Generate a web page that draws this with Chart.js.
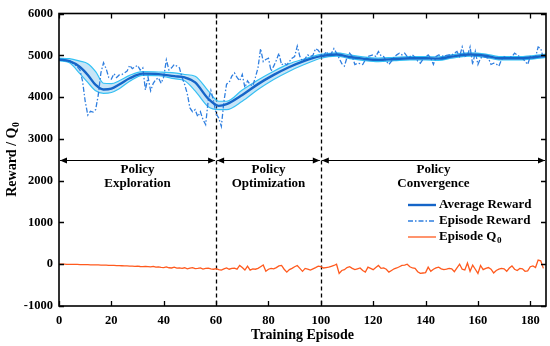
<!DOCTYPE html>
<html>
<head>
<meta charset="utf-8">
<script src="https://cdn.jsdelivr.net/npm/chart.js@4.4.1/dist/chart.umd.min.js"></script>
<style>
  html, body { margin: 0; padding: 0; background: #fff; }
  #wrap { width: 550px; height: 346px; }
</style>
</head>
<body>
<div id="wrap"><canvas id="chart" width="550" height="346"></canvas></div>
<script>
// episode reward, one value per episode (0..185)
const episodeReward = [
  4900, 4890, 4880, 4860, 4870, 4830, 4780, 4720, 4650, 4380,
  3900, 3570, 3660, 3640, 3700, 4050, 4580, 4820, 4680, 4470,
  4430, 4560, 4470, 4530, 4540, 4580, 4620, 4760, 4680, 4720,
  4760, 4650, 4700, 4170, 4480, 4150, 4330, 4420, 4460, 4330,
  4480, 4890, 4650, 4700, 4780, 4740, 4700, 4470, 4300, 4080,
  3740, 3650, 3700, 3530, 3650, 3460, 3340, 3920, 4160, 3920,
  3600, 3500, 3300, 3900, 4310, 4350, 4500, 4580, 4470, 4390,
  4540, 4230, 4390, 4300, 4270, 4470, 4700, 5160, 4850, 4900,
  4930, 4620, 4740, 4880, 5050, 4770, 4810, 4770, 4850, 4930,
  4970, 5220, 4970, 4860, 4920, 5010, 4970, 5000, 5160, 5120,
  5030, 4970, 5090, 5010, 5040, 5160, 5050, 4930, 4800, 4740,
  4950, 5050, 4970, 4780, 4810, 4800, 4780, 4890, 4970, 4990,
  5010, 4970, 5090, 4990, 4970, 4860, 4780, 4860, 4950, 5010,
  5050, 5010, 5050, 4970, 4970, 5010, 4950, 4860, 4810, 4900,
  4960, 5010, 4930, 4780, 4970, 5010, 4990, 4970, 5000, 5010,
  5010, 5050, 5090, 4970, 5200, 4970, 4990, 5200, 4780, 5090,
  4780, 4930, 4970, 4950, 4930, 4780, 4810, 4790, 4740, 4890,
  4970, 4930, 4950, 4970, 5050, 5010, 4960, 4930, 4860, 4780,
  4970, 4930, 4950, 5200, 5160, 4930
];

// episode Q0, one value per episode (0..185)
const episodeQ0 = [
  0, 0, 0, -2, -3, -4, -5, -6, -8, -10,
  -11, -12, -14, -15, -16, -18, -20, -22, -24, -26,
  -28, -30, -32, -35, -37, -40, -42, -45, -48, -50,
  -45, -55, -60, -52, -58, -65, -50, -70, -62, -75,
  -80, -65, -85, -90, -70, -95, -88, -100, -85, -110,
  -95, -80, -105, -100, -90, -115, -100, -95, -110, -120,
  -105, -130, -140, -110, -90, -120, -100, -95, -120, -30,
  -80, -140, -45, -140, -110, -120, -100, -60, -20, -170,
  -120, -100, -110, -80, -40, -30, -120, -190, -130, -100,
  -60, -30, -100, -170, -100, -120, -140, -110, -80, -45,
  -60, -90, -80, -70, -50, -30, 0, -220, -150, -130,
  -80, -60, -100, -130, -110, -90, -150, -190, -70, -100,
  -130, -80, -30, -100, -90, -120, -190, -150, -110, -90,
  -60, -30, -20, 0, -60, -90, -100, -180, -220, -210,
  -200, -70, -170, -120, -90, -70, -110, -130, -120, -100,
  -110, -180, -90, 0, -120, -140, 30, -170, -20, -120,
  -220, -30, -130, -100, -80, -120, -210, -150, -120, -100,
  -110, -170, -90, -40, -120, -150, -100, -110, -170, -160,
  -60, -40, -80, 100, 80, -100
];

// smoothed average reward and its band
const avgEpisodes = [0, 4, 8, 11, 14, 17, 20, 23, 27, 32, 38, 44, 48, 52, 57, 61, 64, 70, 76, 82, 88, 93, 100, 106, 111, 116, 122, 128, 134, 140, 145, 150, 157, 163, 168, 176, 186];
const avgReward = [4900, 4860, 4720, 4530, 4290, 4180, 4200, 4300, 4450, 4560, 4550, 4500, 4470, 4350, 3960, 3790, 3830, 4050, 4310, 4530, 4720, 4850, 4980, 5020, 4960, 4920, 4890, 4910, 4930, 4930, 4920, 4970, 5020, 4990, 4930, 4930, 4990];
const bandUpper = [4930, 4920, 4860, 4800, 4610, 4330, 4320, 4390, 4520, 4610, 4600, 4580, 4540, 4500, 4150, 3900, 3900, 4170, 4410, 4620, 4800, 4900, 5020, 5060, 5010, 4960, 4930, 4950, 4970, 4970, 4960, 5010, 5060, 5030, 4970, 4970, 5030];
const bandLower = [4870, 4820, 4560, 4350, 4150, 4090, 4110, 4200, 4380, 4520, 4510, 4440, 4390, 4150, 3770, 3700, 3700, 3900, 4180, 4420, 4620, 4760, 4930, 4980, 4920, 4880, 4850, 4870, 4890, 4890, 4880, 4930, 4980, 4950, 4890, 4890, 4950];

// phases
const phaseBounds = [0, 60, 100, 186];
const phaseNames = [['Policy', 'Exploration'], ['Policy', 'Optimization'], ['Policy', 'Convergence']];
const phaseArrowY = 2500;

const xTicks = [0, 20, 40, 60, 80, 100, 120, 140, 160, 180];
const yTicks = [-1000, 0, 1000, 2000, 3000, 4000, 5000, 6000];

const FONT = '"Liberation Serif", "Times New Roman", serif';
const toXY = (xs, ys) => ys.map((v, i) => ({ x: xs[i], y: v }));
const idx = episodeReward.map((_, i) => i);

function drawSubText(ctx, base, sub, x, y, size, align) {
  ctx.font = `bold ${size}px ${FONT}`;
  const wb = ctx.measureText(base).width;
  ctx.font = `bold ${size * 0.7}px ${FONT}`;
  const ws = sub ? ctx.measureText(sub).width : 0;
  let x0 = x;
  if (align === 'center') x0 = x - (wb + ws) / 2;
  ctx.textAlign = 'left';
  ctx.font = `bold ${size}px ${FONT}`;
  ctx.fillText(base, x0, y);
  if (sub) {
    ctx.font = `bold ${size * 0.7}px ${FONT}`;
    ctx.fillText(sub, x0 + wb + 0.5, y + size * 0.3);
  }
}

const decor = {
  id: 'decor',
  beforeDatasetsDraw(chart) {
    const { ctx, chartArea: a, scales: { x } } = chart;
    ctx.save();
    ctx.strokeStyle = '#000';
    ctx.lineWidth = 1.3;
    ctx.setLineDash([4, 3]);
    [phaseBounds[1], phaseBounds[2]].forEach(v => {
      const px = Math.round(x.getPixelForValue(v)) + 0.5;
      ctx.beginPath();
      ctx.moveTo(px, a.top);
      ctx.lineTo(px, a.bottom);
      ctx.stroke();
    });
    ctx.restore();
  },
  afterDatasetsDraw(chart) {
    const { ctx, chartArea: a, scales: { x, y } } = chart;
    ctx.save();
    ctx.fillStyle = '#000';
    ctx.strokeStyle = '#000';

    // phase arrows + labels
    const py = Math.round(y.getPixelForValue(phaseArrowY)) + 0.5;
    const head = (tip, dir) => {
      ctx.beginPath();
      ctx.moveTo(tip, py);
      ctx.lineTo(tip - dir * 7, py - 3);
      ctx.lineTo(tip - dir * 7, py + 3);
      ctx.closePath();
      ctx.fill();
    };
    ctx.lineWidth = 1;
    for (let i = 0; i < phaseNames.length; i++) {
      const x0 = x.getPixelForValue(phaseBounds[i]) + 1;
      const x1 = x.getPixelForValue(phaseBounds[i + 1]) - 1;
      ctx.beginPath();
      ctx.moveTo(x0, py);
      ctx.lineTo(x1, py);
      ctx.stroke();
      head(x0, -1);
      head(x1, 1);
      const cx = (x0 + x1) / 2;
      ctx.font = `bold 13px ${FONT}`;
      ctx.textAlign = 'center';
      ctx.textBaseline = 'middle';
      ctx.fillText(phaseNames[i][0], cx, py + 9);
      ctx.fillText(phaseNames[i][1], cx, py + 23);
    }

    // inward ticks on all four sides
    ctx.lineWidth = 1.3;
    xTicks.forEach(v => {
      const px = Math.round(x.getPixelForValue(v)) + 0.5;
      ctx.beginPath();
      ctx.moveTo(px, a.bottom); ctx.lineTo(px, a.bottom - 5);
      ctx.moveTo(px, a.top); ctx.lineTo(px, a.top + 5);
      ctx.stroke();
    });
    yTicks.forEach(v => {
      const pyy = Math.round(y.getPixelForValue(v)) + 0.5;
      ctx.beginPath();
      ctx.moveTo(a.left, pyy); ctx.lineTo(a.left + 5, pyy);
      ctx.moveTo(a.right, pyy); ctx.lineTo(a.right - 5, pyy);
      ctx.stroke();
    });

    // frame
    ctx.lineWidth = 1.6;
    ctx.strokeRect(a.left, a.top, a.right - a.left, a.bottom - a.top);

    // legend
    const items = [chart.data.datasets[4], chart.data.datasets[3], chart.data.datasets[5]];
    const lx = a.right - 138, ly = 205;
    items.forEach((ds, i) => {
      const yy = ly + i * 16;
      ctx.strokeStyle = ds.borderColor;
      ctx.lineWidth = ds.borderWidth;
      ctx.setLineDash(ds.borderDash || []);
      ctx.beginPath();
      ctx.moveTo(lx, yy);
      ctx.lineTo(lx + 28, yy);
      ctx.stroke();
      ctx.setLineDash([]);
      ctx.fillStyle = '#000';
      ctx.textBaseline = 'middle';
      const parts = ds.label.split('_');
      drawSubText(ctx, parts[0], parts[1], lx + 31, yy, 13, 'left');
    });

    // axis titles
    ctx.fillStyle = '#000';
    ctx.textBaseline = 'middle';
    ctx.font = `bold 14px ${FONT}`;
    ctx.textAlign = 'center';
    ctx.fillText('Training Episode', (a.left + a.right) / 2, 335);
    ctx.translate(12, (a.top + a.bottom) / 2);
    ctx.rotate(-Math.PI / 2);
    drawSubText(ctx, 'Reward / Q', '0', 0, 0, 14, 'center');
    ctx.restore();
  }
};

new Chart(document.getElementById('chart'), {
  type: 'line',
  data: {
    datasets: [
      {
        label: 'band upper',
        data: toXY(avgEpisodes, bandUpper),
        borderColor: '#33c3f5',
        borderWidth: 1.2,
        backgroundColor: 'rgba(80,175,230,0.32)',
        fill: '+1',
        pointRadius: 0,
        cubicInterpolationMode: 'monotone',
        order: 5
      },
      {
        label: 'band lower',
        data: toXY(avgEpisodes, bandLower),
        borderColor: '#33c3f5',
        borderWidth: 1.2,
        fill: false,
        pointRadius: 0,
        cubicInterpolationMode: 'monotone',
        order: 5
      },
      { label: 'spacer', data: [], order: 9 },
      {
        label: 'Episode Reward',
        data: toXY(idx, episodeReward),
        borderColor: '#2f7fe0',
        borderWidth: 1.3,
        borderDash: [5, 2, 1.5, 2],
        fill: false,
        pointRadius: 0,
        tension: 0,
        order: 3
      },
      {
        label: 'Average Reward',
        data: toXY(avgEpisodes, avgReward),
        borderColor: '#1565c8',
        borderWidth: 2.4,
        fill: false,
        pointRadius: 0,
        cubicInterpolationMode: 'monotone',
        order: 1
      },
      {
        label: 'Episode Q_0',
        data: toXY(idx, episodeQ0),
        borderColor: '#ff5a1e',
        borderWidth: 1.3,
        fill: false,
        pointRadius: 0,
        tension: 0,
        order: 2
      }
    ]
  },
  options: {
    responsive: false,
    animation: false,
    devicePixelRatio: 1,
    layout: { padding: { top: 6, right: 4, left: 0, bottom: 0 } },
    plugins: { legend: { display: false }, tooltip: { enabled: false } },
    scales: {
      x: {
        type: 'linear',
        min: 0,
        max: 186,
        grid: { display: false, drawTicks: false },
        border: { display: false },
        afterBuildTicks: s => { s.ticks = xTicks.map(v => ({ value: v })); },
        afterFit: s => { s.height = 40; },
        ticks: { padding: 7, color: '#000', callback: v => String(v), font: { family: FONT, size: 12.5, weight: 'bold' } }
      },
      y: {
        min: -1000,
        max: 6000,
        grid: { display: false, drawTicks: false },
        border: { display: false },
        afterBuildTicks: s => { s.ticks = yTicks.map(v => ({ value: v })); },
        afterFit: s => { s.width = 59; },
        ticks: { padding: 6, color: '#000', callback: v => String(v), font: { family: FONT, size: 12.5, weight: 'bold' } }
      }
    }
  },
  plugins: [decor]
});
</script>
</body>
</html>
